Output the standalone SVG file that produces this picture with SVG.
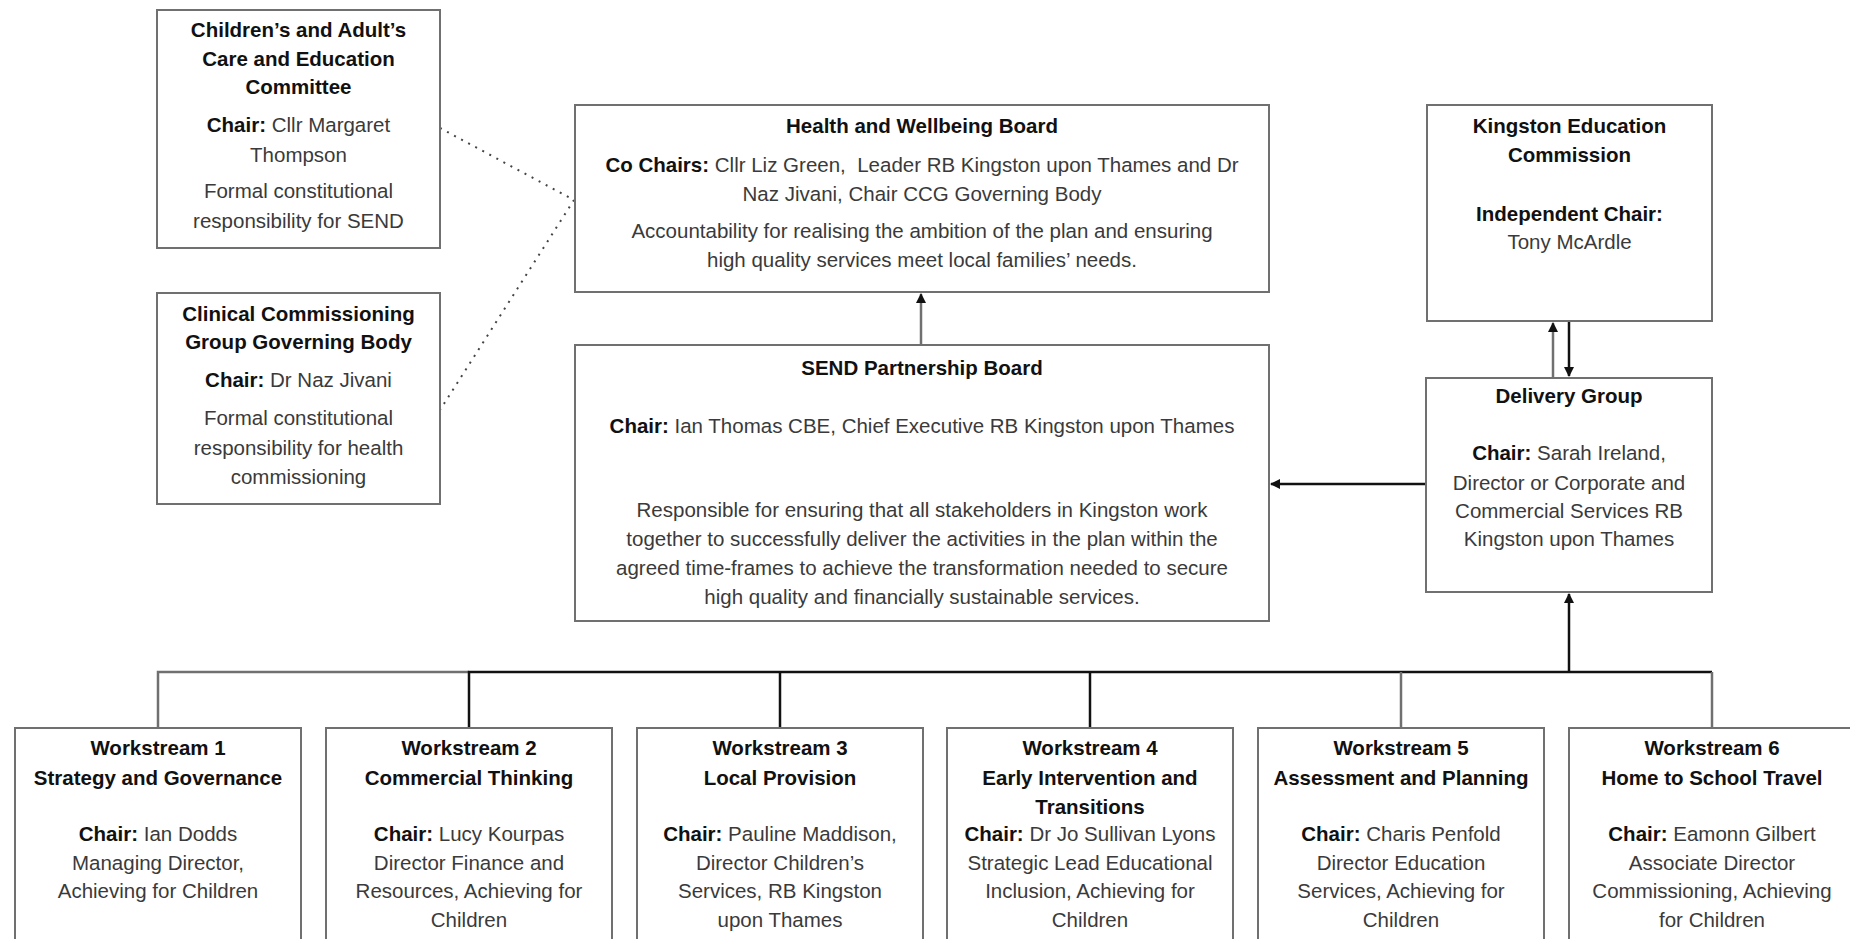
<svg xmlns="http://www.w3.org/2000/svg" width="1850" height="939" viewBox="0 0 1850 939">
<style>
.box{fill:#fff;stroke:#707070;stroke-width:2}
text{font-family:"Liberation Sans",Arial,sans-serif;font-size:20.5px;text-anchor:middle;fill:#3a3a3a}
.b{font-weight:bold;fill:#111}
.ln{fill:none;stroke:#111;stroke-width:2.5}
.lg{fill:none;stroke:#707070;stroke-width:2.5}
.dot{fill:none;stroke:#444;stroke-width:2;stroke-dasharray:2 6}
</style>
<defs>
<marker id="ah" viewBox="0 0 10 10" refX="9" refY="5" markerWidth="4" markerHeight="4" orient="auto" markerUnits="strokeWidth">
<path d="M0,0 L10,5 L0,10 z" fill="#111"/>
</marker>
</defs>
<rect width="1850" height="939" fill="#fff"/>
<g id="connectors">
<path class="dot" d="M440,128 L574,200 L440,410"/>
<line class="lg" x1="921" y1="345" x2="921" y2="294" marker-end="url(#ah)"/>
<line class="ln" x1="1426" y1="484" x2="1271" y2="484" marker-end="url(#ah)"/>
<line class="lg" x1="1553" y1="378" x2="1553" y2="323" marker-end="url(#ah)"/>
<line class="ln" x1="1569" y1="321" x2="1569" y2="376" marker-end="url(#ah)"/>
<line class="ln" x1="1569" y1="672" x2="1569" y2="594" marker-end="url(#ah)"/>
<path class="lg" d="M158,728 L158,672 L469,672"/>
<path class="ln" d="M469,728 L469,672 L1712,672"/>
<line class="ln" x1="780" y1="672" x2="780" y2="728"/>
<line class="ln" x1="1090" y1="672" x2="1090" y2="728"/>
<line class="lg" x1="1401" y1="672" x2="1401" y2="728"/>
<line class="lg" x1="1712" y1="672" x2="1712" y2="728"/>
</g>
<g id="committee">
<rect class="box" x="157" y="10" width="283" height="238"/>
<text x="298.5" y="36.5" class="b">Children’s and Adult’s</text>
<text x="298.5" y="66" class="b">Care and Education</text>
<text x="298.5" y="94" class="b">Committee</text>
<text x="298.5" y="132"><tspan class="b">Chair:</tspan> Cllr Margaret</text>
<text x="298.5" y="161.5">Thompson</text>
<text x="298.5" y="198">Formal constitutional</text>
<text x="298.5" y="227.5">responsibility for SEND</text>
</g>
<g id="ccg">
<rect class="box" x="157" y="293" width="283" height="211"/>
<text x="298.5" y="321" class="b">Clinical Commissioning</text>
<text x="298.5" y="349" class="b">Group Governing Body</text>
<text x="298.5" y="387"><tspan class="b">Chair:</tspan> Dr Naz Jivani</text>
<text x="298.5" y="424.5">Formal constitutional</text>
<text x="298.5" y="455">responsibility for health</text>
<text x="298.5" y="483.5">commissioning</text>
</g>
<g id="hwb">
<rect class="box" x="575" y="105" width="694" height="187"/>
<text x="922" y="133" class="b">Health and Wellbeing Board</text>
<text x="922" y="172" xml:space="preserve"><tspan class="b">Co Chairs:</tspan> Cllr Liz Green,  Leader RB Kingston upon Thames and Dr</text>
<text x="922" y="200.5">Naz Jivani, Chair CCG Governing Body</text>
<text x="922" y="238">Accountability for realising the ambition of the plan and ensuring</text>
<text x="922" y="266.5">high quality services meet local families’ needs.</text>
</g>
<g id="send">
<rect class="box" x="575" y="345" width="694" height="276"/>
<text x="922" y="375" class="b">SEND Partnership Board</text>
<text x="922" y="433"><tspan class="b">Chair:</tspan> Ian Thomas CBE, Chief Executive RB Kingston upon Thames</text>
<text x="922" y="517">Responsible for ensuring that all stakeholders in Kingston work</text>
<text x="922" y="546">together to successfully deliver the activities in the plan within the</text>
<text x="922" y="574.5">agreed time-frames to achieve the transformation needed to secure</text>
<text x="922" y="604">high quality and financially sustainable services.</text>
</g>
<g id="kec">
<rect class="box" x="1427" y="105" width="285" height="216"/>
<text x="1569.5" y="133" class="b">Kingston Education</text>
<text x="1569.5" y="161.5" class="b">Commission</text>
<text x="1569.5" y="220.5" class="b">Independent Chair:</text>
<text x="1569.5" y="249">Tony McArdle</text>
</g>
<g id="delivery">
<rect class="box" x="1426" y="378" width="286" height="214"/>
<text x="1569" y="403" class="b">Delivery Group</text>
<text x="1569" y="460"><tspan class="b">Chair:</tspan> Sarah Ireland,</text>
<text x="1569" y="489.5">Director or Corporate and</text>
<text x="1569" y="518">Commercial Services RB</text>
<text x="1569" y="546">Kingston upon Thames</text>
</g>
<g id="ws1">
<rect class="box" x="15" y="728" width="286" height="230"/>
<text x="158" y="755" class="b">Workstream 1</text>
<text x="158" y="784.5" class="b">Strategy and Governance</text>
<text x="158" y="841"><tspan class="b">Chair:</tspan> Ian Dodds</text>
<text x="158" y="869.5">Managing Director,</text>
<text x="158" y="898">Achieving for Children</text>
</g>
<g id="ws2">
<rect class="box" x="326" y="728" width="286" height="230"/>
<text x="469" y="755" class="b">Workstream 2</text>
<text x="469" y="784.5" class="b">Commercial Thinking</text>
<text x="469" y="841"><tspan class="b">Chair:</tspan> Lucy Kourpas</text>
<text x="469" y="869.5">Director Finance and</text>
<text x="469" y="898">Resources, Achieving for</text>
<text x="469" y="927">Children</text>
</g>
<g id="ws3">
<rect class="box" x="637" y="728" width="286" height="230"/>
<text x="780" y="755" class="b">Workstream 3</text>
<text x="780" y="784.5" class="b">Local Provision</text>
<text x="780" y="841"><tspan class="b">Chair:</tspan> Pauline Maddison,</text>
<text x="780" y="869.5">Director Children’s</text>
<text x="780" y="898">Services, RB Kingston</text>
<text x="780" y="927">upon Thames</text>
</g>
<g id="ws4">
<rect class="box" x="947" y="728" width="286" height="230"/>
<text x="1090" y="755" class="b">Workstream 4</text>
<text x="1090" y="784.5" class="b">Early Intervention and</text>
<text x="1090" y="814" class="b">Transitions</text>
<text x="1090" y="841"><tspan class="b">Chair:</tspan> Dr Jo Sullivan Lyons</text>
<text x="1090" y="869.5">Strategic Lead Educational</text>
<text x="1090" y="898">Inclusion, Achieving for</text>
<text x="1090" y="927">Children</text>
</g>
<g id="ws5">
<rect class="box" x="1258" y="728" width="286" height="230"/>
<text x="1401" y="755" class="b">Workstream 5</text>
<text x="1401" y="784.5" class="b">Assessment and Planning</text>
<text x="1401" y="841"><tspan class="b">Chair:</tspan> Charis Penfold</text>
<text x="1401" y="869.5">Director Education</text>
<text x="1401" y="898">Services, Achieving for</text>
<text x="1401" y="927">Children</text>
</g>
<g id="ws6">
<rect class="box" x="1569" y="728" width="286" height="230"/>
<text x="1712" y="755" class="b">Workstream 6</text>
<text x="1712" y="784.5" class="b">Home to School Travel</text>
<text x="1712" y="841"><tspan class="b">Chair:</tspan> Eamonn Gilbert</text>
<text x="1712" y="869.5">Associate Director</text>
<text x="1712" y="898">Commissioning, Achieving</text>
<text x="1712" y="927">for Children</text>
</g>
</svg>
